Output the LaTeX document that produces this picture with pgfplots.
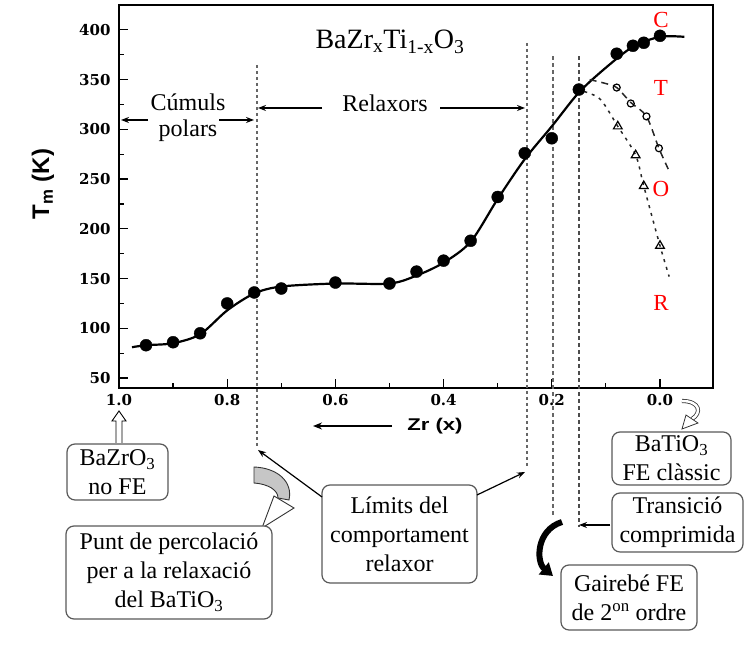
\documentclass[border=0pt]{standalone}
\usepackage{fontspec}
\setmainfont{Liberation Serif}
\newfontfamily\tickfont{DejaVu Serif}
\newfontfamily\sansb{Liberation Sans}
\usepackage{graphicx}
\usepackage{pgfplots}
\pgfplotsset{compat=1.18}
\usetikzlibrary{arrows.meta}

\begin{document}
\begin{tikzpicture}[x=1bp,y=1bp]
\useasboundingbox (0,0) rectangle (744,653);
\begin{axis}[
  at={(119bp,265bp)}, anchor=south west, width=594bp, height=383bp, scale only axis,
  x dir=reverse, xmin=-0.098, xmax=1.0, ymin=40, ymax=425,
  xtick={0,0.2,0.4,0.6,0.8,1.0}, xticklabels={0.0,0.2,0.4,0.6,0.8,1.0},
  minor xtick={0.1,0.3,0.5,0.7,0.9},
  ytick={50,100,150,200,250,300,350,400},
  yticklabels={50,100,150,200,250,300,350,400},
  minor ytick={75,125,175,225,275,325,375},
  tick align=inside, tick pos=left,
  major tick length=9bp, minor tick length=5bp,
  every tick/.style={black, line width=1.2bp},
  axis line style={line width=1.6bp},
  tick label style={font=\tickfont\bfseries\fontsize{15bp}{15bp}\selectfont, /pgf/number format/assume math mode=true},
  xticklabel style={yshift=-3bp},
  yticklabel style={xshift=-5bp},
  clip=false,
]
% vertical limit lines
\draw[gray!80!black, line width=1.4bp, dash pattern=on 3bp off 3bp] (axis cs:0.745,364.7) -- (axis cs:0.745,-19.3);
\draw[gray!80!black, line width=1.4bp, dash pattern=on 3bp off 3bp] (axis cs:0.246,386.8) -- (axis cs:0.246,-38.4);
\draw[gray!80!black, line width=1.4bp, dash pattern=on 4bp off 3bp] (axis cs:0.198,373.7) -- (axis cs:0.198,-90.7);
\draw[gray!60!black, line width=1.4bp, dash pattern=on 4bp off 3bp] (axis cs:0.15,373.7) -- (axis cs:0.15,-99.7);
% main curve
\addplot[black, line width=2.2bp, smooth, tension=0.5] coordinates {
(0.976,81) (0.95,83) (0.90,85) (0.85,94) (0.80,118) (0.75,135) (0.70,142) (0.60,145) (0.50,145) (0.45,153) (0.40,166) (0.35,187) (0.30,230) (0.25,270) (0.20,303) (0.15,337) (0.10,362) (0.05,383) (0.0,393) (-0.045,393)};
\addplot[only marks, mark=*, mark size=6bp, black] coordinates {
(0.95,83) (0.90,86) (0.85,95) (0.80,125) (0.75,136) (0.70,140) (0.60,146) (0.50,145) (0.45,157) (0.40,168) (0.35,188) (0.30,232) (0.25,276) (0.20,291) (0.15,340) (0.08,376) (0.05,384) (0.03,387) (0.0,394)};
% T branch
\addplot[gray!30!black, line width=1.5bp, dash pattern=on 7bp off 5bp, smooth] coordinates {
(0.13,350) (0.10,346) (0.08,342) (0.054,327) (0.025,313) (0.002,281) (-0.017,258)};
\addplot[only marks, mark=o, mark size=3.5bp, black, line width=1.2bp] coordinates {
(0.08,342) (0.054,326) (0.025,313) (0.002,281)};
% O branch
\addplot[gray!30!black, line width=1.5bp, dash pattern=on 3bp off 5bp, smooth] coordinates {
(0.14,338) (0.11,330) (0.078,303) (0.045,274) (0.03,243) (0.0,183) (-0.017,152)};
\addplot[only marks, mark=triangle, mark size=5bp, black, line width=1.2bp] coordinates {
(0.078,303) (0.045,274) (0.03,243) (0.0,183)};
\end{axis}

\begin{scope}[y=-1bp, shift={(0,653bp)}]
\tikzset{bx/.style={draw=gray!70!black, line width=1.2bp, rounded corners=8bp, align=center, inner sep=0pt, fill=white,
  font=\fontsize{24bp}{29bp}\selectfont},
  arr/.style={-{Stealth[length=8bp,width=6bp]}, line width=1.2bp}}
\node[font=\fontsize{28bp}{32bp}\selectfont, anchor=base] at (390,49) {BaZr\textsubscript{x}Ti\textsubscript{1-x}O\textsubscript{3}};
\node[font=\fontsize{24bp}{29bp}\selectfont, anchor=base] at (188,111) {Cúmuls};
\node[font=\fontsize{24bp}{29bp}\selectfont, anchor=base] at (188,137) {polars};
\node[font=\fontsize{24bp}{29bp}\selectfont, anchor=base] at (385,112) {Relaxors};
\draw[arr] (148,120) -- (121,120);
\draw[arr] (219,120) -- (254,120);
\draw[arr] (322,108) -- (258,108);
\draw[arr] (440,108) -- (525,108);
\foreach \t/\yy in {C/20,T/88,O/189,R/303}
  \node[red, font=\fontsize{23bp}{24bp}\selectfont] at (661,\yy) {\t};
\node[rotate=90, font=\sansb\bfseries\fontsize{24bp}{24bp}\selectfont] at (43,184) {T\textsubscript{m} (K)};
\node[font=\sansb\bfseries\fontsize{17bp}{17bp}\selectfont] at (435,426) {\scalebox{1.3}[1]{Zr (x)}};
\draw[-{Stealth[length=9bp,width=7bp]}, line width=1.5bp] (392,426) -- (313,426);
% hollow up arrow at 1.0
\draw[line width=0.9bp, fill=white] (116,443) -- (116,421) -- (112,421) -- (119,411) -- (126,421) -- (122,421) -- (122,443);
\node[bx, minimum width=101bp, minimum height=56bp] at (117.5,472) {BaZrO\textsubscript{3}\\no FE};
% gray crescent arrow
\filldraw[fill=gray!45, draw=gray!40!black, line width=0.9bp] (254,467) .. controls (278,468) and (293,482) .. (289,500) -- (278,498) .. controls (278,490) and (268,484) .. (254,483) -- cycle;
\filldraw[fill=white, draw=gray!40!black, line width=0.9bp] (274,496) -- (294,508) -- (262,528) -- cycle;
\node[bx, minimum width=206bp, minimum height=93bp] at (169,572.5) {Punt de percolació\\per a la relaxació\\del BaTiO\textsubscript{3}};
\node[bx, minimum width=155bp, minimum height=98bp] at (399.5,534) {Límits del\\comportament\\relaxor};
\draw[arr] (322,497) -- (258,450);
\draw[arr] (477,495) -- (525,472);
% small hollow arrow near 0.0
\draw[gray!40!black, line width=0.8bp, double=white, double distance=2.5bp] (682,401) .. controls (700,401) and (702,413) .. (692,419);
\filldraw[fill=white, draw=gray!40!black, line width=0.8bp] (686,415) -- (698,423) -- (682,429) -- cycle;
\node[bx, minimum width=119bp, minimum height=53bp] at (671.5,458.5) {BaTiO\textsubscript{3}\\FE clàssic};
\node[bx, minimum width=131bp, minimum height=59bp] at (677.5,522.5) {Transició\\comprimida};
\draw[arr] (610,525) -- (579,525);
\draw[line width=6bp, -{Triangle[length=12bp,width=15bp]}] (562,522) .. controls (536,530) and (536,562) .. (553,576);
\node[bx, minimum width=136bp, minimum height=65bp] at (629,597.5) {Gairebé FE\\de 2\textsuperscript{on} ordre};
\end{scope}
\end{tikzpicture}
\end{document}
